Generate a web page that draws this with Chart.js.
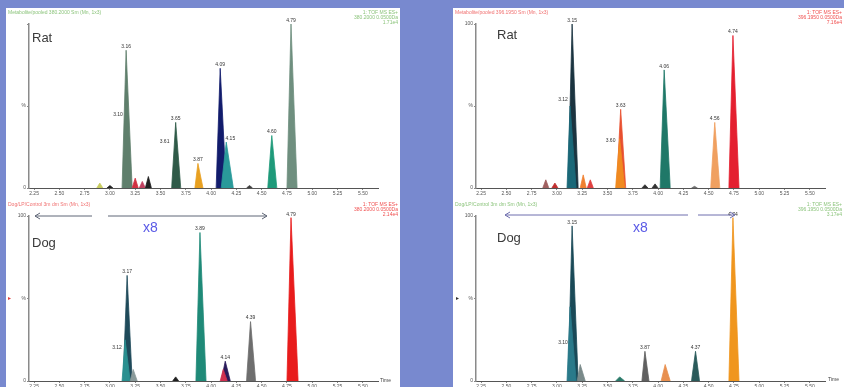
<!DOCTYPE html>
<html><head><meta charset="utf-8">
<script src="https://cdn.jsdelivr.net/npm/chart.js@4.4.1/dist/chart.umd.min.js"></script>
<style>
html,body{margin:0;padding:0;}
body{width:844px;height:387px;background:#7889cf;position:relative;overflow:hidden;font-family:"Liberation Sans",Arial,sans-serif;}
.panel{position:absolute;background:#fff;}
canvas{position:absolute;}
.t{position:absolute;white-space:nowrap;line-height:1;}
.h{font-size:5px;}
.r{text-align:right;}
.big{font-size:13px;color:#3a3a3a;}
.x8{font-size:14px;color:#5a5ae6;}
</style></head><body>
<div class="panel" style="left:6px;top:8px;width:394px;height:379px"></div>
<div class="panel" style="left:453px;top:8px;width:391px;height:379px"></div>
<canvas id="c1" width="394" height="192" style="left:6px;top:8px"></canvas>
<canvas id="c2" width="394" height="187" style="left:6px;top:200px"></canvas>
<canvas id="c3" width="391" height="192" style="left:453px;top:8px"></canvas>
<canvas id="c4" width="391" height="187" style="left:453px;top:200px"></canvas>

<div class="t h" style="left:8px;top:10px;color:#8cc47c">Metabolite/pooled 380.2000 Sm (Mn, 1x3)</div>
<div class="t h r" style="right:446px;top:10px;color:#8cc47c">1: TOF MS ES+<br>380.2000 0.0500Da<br>1.71e4</div>
<div class="t h" style="left:8px;top:202px;color:#f07070">Dog/LP/Control 3m dm Sm (Mn, 1x3)</div>
<div class="t h r" style="right:446px;top:202px;color:#f05050">1: TOF MS ES+<br>380.2000 0.0500Da<br>2.14e4</div>
<div class="t h" style="left:455px;top:10px;color:#f07070">Metabolite/pooled 396.1950 Sm (Mn, 1x3)</div>
<div class="t h r" style="right:2px;top:10px;color:#f05050">1: TOF MS ES+<br>396.1950 0.0500Da<br>7.16e4</div>
<div class="t h" style="left:455px;top:202px;color:#8cc47c">Dog/LP/Control 3m dm Sm (Mn, 1x3)</div>
<div class="t h r" style="right:2px;top:202px;color:#8cc47c">1: TOF MS ES+<br>396.1950 0.0500Da<br>3.17e4</div>

<div class="t big" style="left:32px;top:31px">Rat</div>
<div class="t big" style="left:497px;top:28px">Rat</div>
<div class="t big" style="left:32px;top:236px">Dog</div>
<div class="t big" style="left:497px;top:231px">Dog</div>
<div class="t x8" style="left:143px;top:220px">x8</div>
<div class="t x8" style="left:633px;top:220px">x8</div>
<div class="t h" style="left:380px;top:378px;color:#444">Time</div>
<div class="t h" style="left:828px;top:377px;color:#444">Time</div>
<div class="t" style="left:8px;top:295px;font-size:6px;color:#e04040">&#9656;</div>
<div class="t" style="left:456px;top:295px;font-size:6px;color:#333">&#9656;</div>

<svg width="844" height="387" style="position:absolute;left:0;top:0;pointer-events:none">
 <g stroke="#5f6676" stroke-width="1" fill="none">
  <line x1="35" y1="216" x2="92" y2="216"/><polyline points="40,213 35,216 40,219"/>
  <line x1="108" y1="216" x2="267" y2="216"/><polyline points="262,213 267,216 262,219"/>
 </g>
 <g stroke="#6e6eae" stroke-width="1" fill="none">
  <line x1="505" y1="215" x2="688" y2="215"/><polyline points="510,212 505,215 510,218"/>
  <line x1="698" y1="215" x2="735" y2="215"/><polyline points="730,212 735,215 730,218"/>
 </g>
</svg>

<script>
// shared axis ticks
const tickTimes = [2.25, 2.50, 2.75, 3.00, 3.25, 3.50, 3.75, 4.00, 4.25, 4.50, 4.75, 5.00, 5.25, 5.50];
const yTicks = [0, 50, 100];
const yTickText = ['0', '%', '100'];

// peaks: [start, apex, end, height %]
const ratLeftPeaks = [
  [2.87, 2.90, 2.93, 3], [2.97, 3.00, 3.03, 1.5], [3.12, 3.16, 3.22, 84],
  [3.22, 3.25, 3.28, 6], [3.29, 3.32, 3.35, 4], [3.35, 3.38, 3.41, 7],
  [3.61, 3.65, 3.70, 40], [3.84, 3.87, 3.92, 15], [4.05, 4.09, 4.15, 73],
  [4.10, 4.15, 4.22, 28], [4.35, 4.38, 4.41, 1.5], [4.56, 4.60, 4.65, 32],
  [4.75, 4.79, 4.85, 100]
];
const ratLeftColors = ['#c8cc60', '#202020', '#5f7f6c', '#d03040', '#c04060', '#202020',
  '#2f5a48', '#e8a020', '#121c6c', '#2a9a9a', '#404040', '#1f9a7a', '#6f8f7f'];
const ratLeftLabels = ['', '', '3.16', '', '', '', '3.65', '3.87', '4.09', '', '', '4.60', '4.79'];
const ratLeftShoulders = [[3.08, 45, '3.10'], [3.54, 28, '3.61'], [4.19, 30, '4.15']];

const dogLeftPeaks = [
  [3.13, 3.17, 3.22, 64], [3.12, 3.15, 3.20, 25], [3.20, 3.23, 3.27, 7],
  [3.62, 3.65, 3.68, 2.5], [3.85, 3.89, 3.95, 90], [4.10, 4.14, 4.19, 12],
  [4.09, 4.12, 4.16, 7], [4.35, 4.39, 4.44, 36], [4.75, 4.79, 4.86, 99]
];
const dogLeftColors = ['#1f4a5a', '#2a9090', '#8a9a9a', '#202020', '#1f8a78', '#2a1a5a',
  '#d03050', '#6e6e6e', '#e81c1c'];
const dogLeftLabels = ['3.17', '', '', '', '3.89', '4.14', '', '4.39', '4.79'];
const dogLeftShoulders = [[3.07, 20, '3.12']];

const ratRightPeaks = [
  [2.86, 2.89, 2.92, 5], [2.95, 2.98, 3.01, 3], [3.11, 3.15, 3.21, 100],
  [3.10, 3.13, 3.19, 50], [3.23, 3.26, 3.29, 8], [3.30, 3.33, 3.36, 5],
  [3.59, 3.63, 3.68, 48], [3.58, 3.62, 3.67, 30], [3.84, 3.87, 3.90, 2],
  [3.94, 3.97, 4.00, 2.5], [4.02, 4.06, 4.12, 72], [4.33, 4.36, 4.39, 1],
  [4.52, 4.56, 4.61, 40], [4.70, 4.74, 4.80, 93]
];
const ratRightColors = ['#a06060', '#c03030', '#1b3440', '#1a6878', '#f08030', '#e04040',
  '#e85030', '#f08a20', '#303030', '#303030', '#1f7868', '#707070', '#f0a060', '#e42030'];
const ratRightLabels = ['', '', '3.15', '', '', '', '3.63', '', '', '', '4.06', '', '4.56', '4.74'];
const ratRightShoulders = [[3.06, 54, '3.12'], [3.53, 29, '3.60']];

const dogRightPeaks = [
  [3.11, 3.15, 3.21, 94], [3.10, 3.13, 3.19, 45], [3.20, 3.23, 3.28, 10],
  [3.58, 3.62, 3.67, 2.5], [3.84, 3.87, 3.91, 18], [4.03, 4.07, 4.12, 10],
  [4.33, 4.37, 4.41, 18], [4.70, 4.74, 4.80, 99]
];
const dogRightColors = ['#1a4a58', '#2a7a8a', '#7a8a8a', '#2a7a6a', '#606060', '#e89050',
  '#2a5a5a', '#f0961e'];
const dogRightLabels = ['3.15', '', '', '', '3.87', '', '4.37', '4.74'];
const dogRightShoulders = [[3.06, 23, '3.10']];

const FONT = '"Liberation Sans", Arial, sans-serif';

const labelPlugin = {
  id: 'peakLabels',
  afterDatasetsDraw(chart, args, opts) {
    const ctx = chart.ctx, xs = chart.scales.x, ys = chart.scales.y;
    ctx.save();
    ctx.font = '5px ' + FONT;
    ctx.fillStyle = '#333';
    ctx.textAlign = 'center';
    ctx.textBaseline = 'bottom';
    opts.peaks.forEach((p, i) => {
      if (!opts.labels[i]) return;
      ctx.fillText(opts.labels[i], xs.getPixelForValue(p[1]), ys.getPixelForValue(p[3]) - 1);
    });
    ctx.textBaseline = 'middle';
    opts.shoulders.forEach(s => {
      ctx.fillText(s[2], xs.getPixelForValue(s[0]), ys.getPixelForValue(s[1]));
    });
    ctx.restore();
  }
};

function makeChart(id, peaks, colors, labels, shoulders, padRight, xAxisH, show100) {
  const n = peaks.length;
  const datasets = peaks.map((p, i) => ({
    data: [{x: p[0], y: 0}, {x: p[1], y: p[3]}, {x: p[2], y: 0}],
    borderColor: colors[i],
    backgroundColor: colors[i],
    borderWidth: 0.8,
    fill: 'origin',
    pointRadius: 0,
    tension: 0,
    order: n - i
  }));
  new Chart(document.getElementById(id), {
    type: 'line',
    data: {datasets},
    plugins: [labelPlugin],
    options: {
      responsive: false,
      animation: false,
      devicePixelRatio: 1,
      layout: {padding: {top: 16, right: padRight, left: 0, bottom: 0}},
      plugins: {
        legend: {display: false},
        tooltip: {enabled: false},
        peakLabels: {peaks, labels, shoulders}
      },
      scales: {
        x: {
          type: 'linear', min: 2.20, max: 5.65,
          afterBuildTicks: a => { a.ticks = tickTimes.map(v => ({value: v})); },
          afterFit: s => { s.height = xAxisH; },
          ticks: {autoSkip: false, maxRotation: 0, padding: 1, color: '#555',
            font: {size: 5, family: FONT}, callback: v => Number(v).toFixed(2)},
          grid: {drawOnChartArea: false, drawTicks: true, tickLength: 2, color: '#888'},
          border: {color: '#555', width: 1}
        },
        y: {
          type: 'linear', min: 0, max: 100,
          afterBuildTicks: a => { a.ticks = yTicks.map(v => ({value: v})); },
          afterFit: s => { s.width = 23; },
          ticks: {padding: 1, color: '#555', font: {size: 5, family: FONT},
            callback: v => (v === 100 && !show100) ? '' : yTickText[yTicks.indexOf(v)]},
          grid: {drawOnChartArea: false, drawTicks: true, tickLength: 2, color: '#888'},
          border: {color: '#8a8a8a', width: 1.5}
        }
      }
    }
  });
}

makeChart('c1', ratLeftPeaks, ratLeftColors, ratLeftLabels, ratLeftShoulders, 22, 12, false);
makeChart('c2', dogLeftPeaks, dogLeftColors, dogLeftLabels, dogLeftShoulders, 22, 6, true);
makeChart('c3', ratRightPeaks, ratRightColors, ratRightLabels, ratRightShoulders, 19, 12, true);
makeChart('c4', dogRightPeaks, dogRightColors, dogRightLabels, dogRightShoulders, 19, 6, true);
</script>
</body></html>
